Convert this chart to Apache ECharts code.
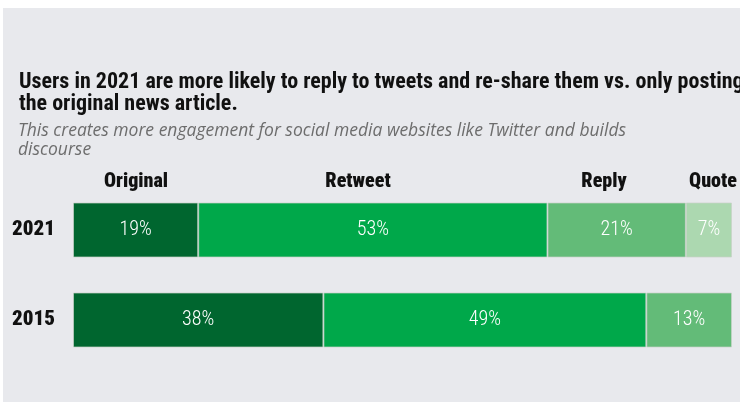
<!DOCTYPE html>
<html><head><meta charset="utf-8">
<script src="https://cdn.jsdelivr.net/npm/echarts@6/dist/echarts.min.js"></script>
<style>html,body{margin:0;padding:0;background:#fff;}#c{width:740px;height:402px;}</style>
</head><body><div id="c"></div>
<script>
const years = ['2021', '2015'];
const seriesNames = ['Original', 'Retweet', 'Reply', 'Quote'];
const original = [19, 38];
const retweet = [53, 49];
const reply = [21, 13];
const quote = [7, null];
const titleText = 'Users in 2021 are more likely to reply to tweets and re-share them vs. only posting\nthe original news article.';
const subtitleText = 'This creates more engagement for social media websites like Twitter and builds\ndiscourse';

const colors = ['#00662f', '#00a84a', '#63bb78', '#acd8b0'];
const headerX = [136, 358, 604, 713];
const values = [original, retweet, reply, quote];
const COND = '"Roboto Condensed", "DejaVu Sans Condensed", sans-serif';

const chart = echarts.init(document.getElementById('c'));
chart.setOption({
  animation: false,
  graphic: [
    { type: 'rect', z: -10, silent: true, shape: { x: 3, y: 8, width: 737, height: 394 }, style: { fill: '#e8e9ed' } }
  ].concat(seriesNames.map((n, i) => ({
    type: 'text', x: headerX[i], y: 182,
    style: { text: n, font: '900 20px ' + COND, fill: '#111', textAlign: 'center', textVerticalAlign: 'middle' }
  }))),
  title: [
    { text: titleText, left: 14, top: 66,
      textStyle: { fontFamily: COND, fontWeight: 'bold', fontSize: 22, lineHeight: 22, color: '#111' } },
    { text: subtitleText, left: 13, top: 117,
      textStyle: { fontFamily: '"Open Sans", sans-serif', fontStyle: 'italic', fontWeight: 'normal', fontSize: 17.5, lineHeight: 19, color: '#6d6d6d' } }
  ],
  grid: { left: 73, right: 8, top: 185, height: 180 },
  xAxis: { type: 'value', min: 0, max: 100, show: false },
  yAxis: {
    type: 'category', data: years, inverse: true,
    axisLine: { show: false }, axisTick: { show: false },
    axisLabel: { margin: 18, fontFamily: COND, fontWeight: 900, fontSize: 21, color: '#111' }
  },
  series: seriesNames.map((n, i) => ({
    name: n, type: 'bar', stack: 'all', barWidth: 55,
    data: values[i],
    itemStyle: { color: colors[i], borderColor: 'rgba(200,210,200,0.7)', borderWidth: 1 },
    label: { show: true, position: 'inside', formatter: p => p.value + '%', color: '#fff',
      fontFamily: COND, fontWeight: 300, fontSize: 20 }
  }))
});
</script></body></html>
